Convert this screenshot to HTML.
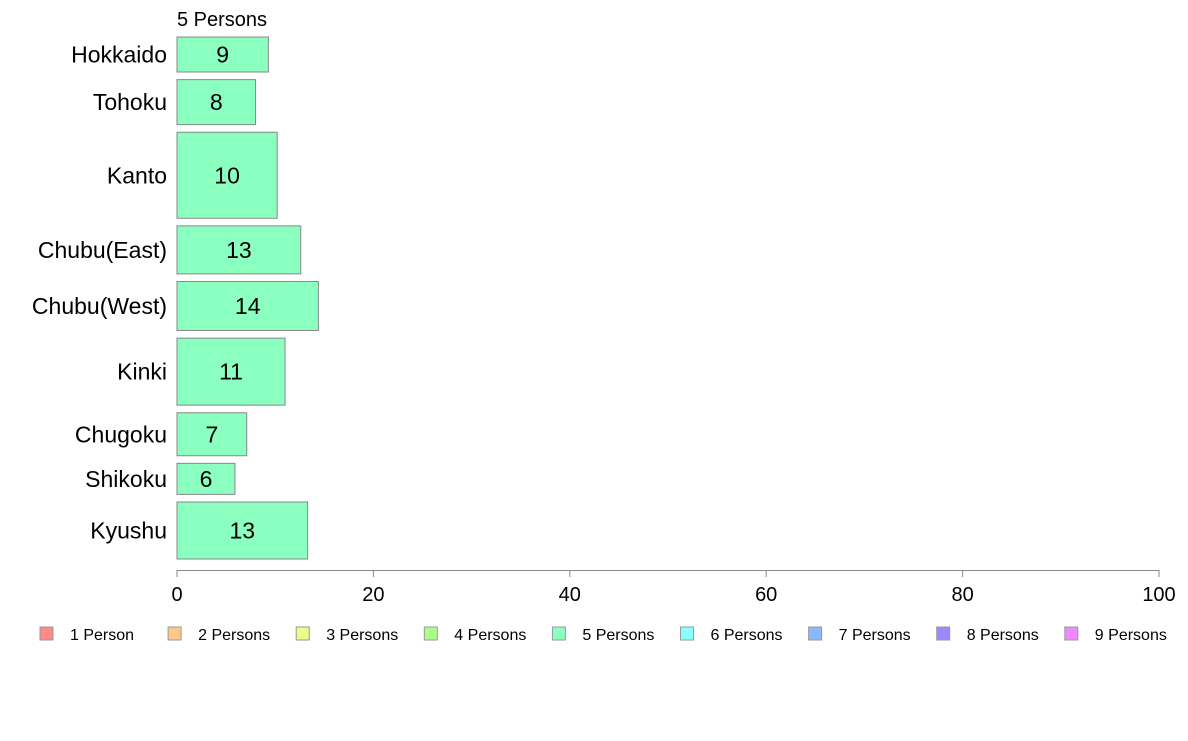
<!DOCTYPE html>
<html><head><meta charset="utf-8"><style>
body{margin:0;background:#fff;font-family:"Liberation Sans",Arial,sans-serif}
svg text{font-family:"Liberation Sans",Arial,sans-serif}
</style></head><body>
<svg id="c" width="1188" height="736"></svg>
<script>
const categories=["Hokkaido","Tohoku","Kanto","Chubu(East)","Chubu(West)","Kinki","Chugoku","Shikoku","Kyushu"];
const values=[9.3,8.0,10.2,12.6,14.4,11.0,7.1,5.9,13.3];
const labels=["9","8","10","13","14","11","7","6","13"];
const weights=[35,45,86,48,49,67,43,31,57];
const ticks=[0,20,40,60,80,100];
const legendNames=["1 Person","2 Persons","3 Persons","4 Persons","5 Persons","6 Persons","7 Persons","8 Persons","9 Persons"];
const legendColors=["#ff8a8a","#ffc88a","#eaff8a","#a8ff8a","#8affc0","#8affff","#8ab8ff","#9b8aff","#ee8aff"];
const svg=document.getElementById('c');const NS="http://www.w3.org/2000/svg";
function el(t,a,txt){const e=document.createElementNS(NS,t);for(const k in a)e.setAttribute(k,a[k]);if(txt!=null)e.textContent=txt;svg.appendChild(e);return e;}
const x0=177,x1=1159;const x=v=>x0+(x1-x0)*v/100;
const plotTop=37,gap=7.6;
const plotH=559-plotTop-gap*(categories.length-1);
const wsum=weights.reduce((a,b)=>a+b,0);
let t=el('text',{x:177,y:26,'font-size':20,fill:'#000'},'5 Persons');


let y=plotTop;
categories.forEach((c,i)=>{
 const h=plotH*weights[i]/wsum;
 const r=el('rect',{x:x(0),y:y,width:x(values[i])-x(0),height:h,fill:'#8affc0',stroke:'#888','stroke-width':1});
 
 
 const v=el('text',{x:(x(0)+x(values[i]))/2,y:y+h/2+8,'font-size':23,'text-anchor':'middle',fill:'#000'},labels[i]);
 
 
 const l=el('text',{x:167,y:y+h/2+8,'font-size':23,'text-anchor':'end',fill:'#000'},c);
 
 
 y+=h+gap;
});
const ax=el('line',{x1:x0,x2:x1,y1:570.5,y2:570.5,stroke:'#888','stroke-width':1});


ticks.forEach(v=>{
 const tk=el('line',{x1:x(v),x2:x(v),y1:570,y2:577,stroke:'#888','stroke-width':1});
 
 
 const tl=el('text',{x:x(v),y:601,'font-size':20,'text-anchor':'middle',fill:'#000'},String(v));
 
 
});
legendNames.forEach((n,i)=>{
 const lx=40+128.1*i;
 const s=el('rect',{x:lx,y:627,width:13,height:13,fill:legendColors[i],stroke:'#999','stroke-width':1});
 
 
 const tx=el('text',{x:lx+30,y:640,'font-size':16,fill:'#000'},n);
 
 
});
</script>
</body></html>
